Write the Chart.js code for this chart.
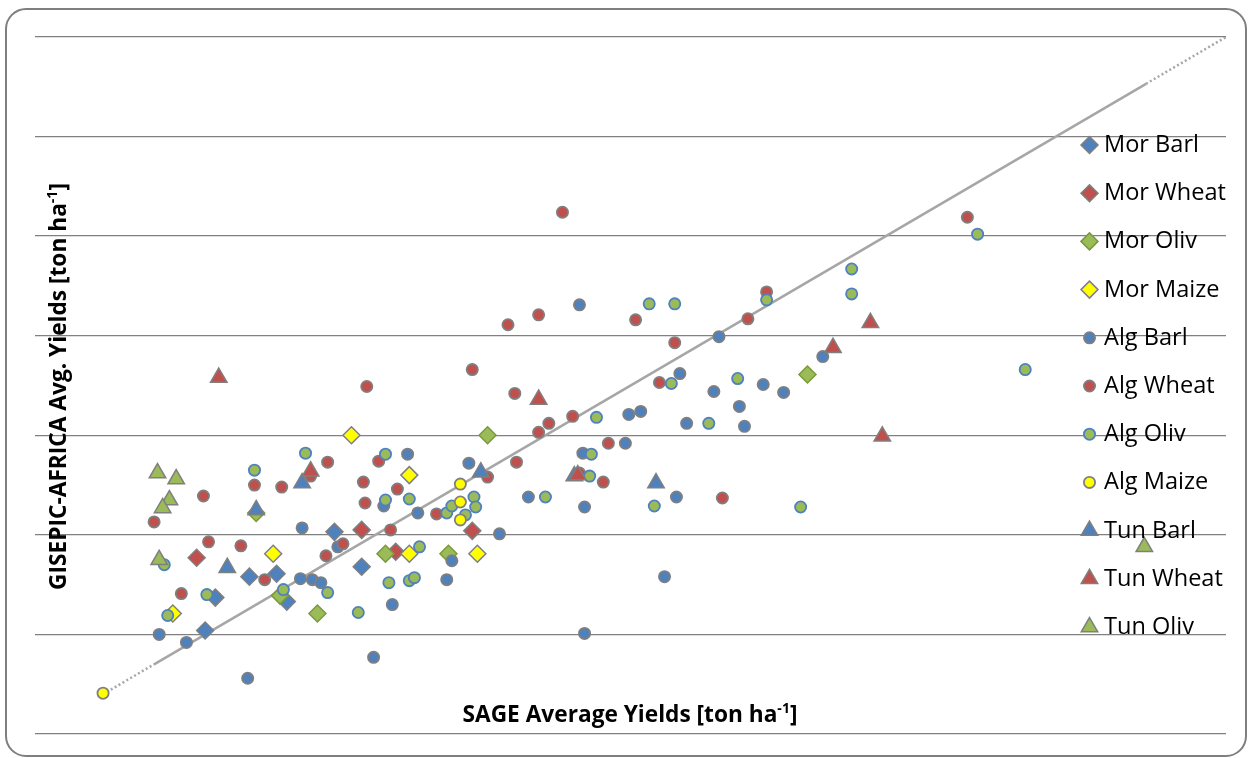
<!DOCTYPE html>
<html>
<head>
<meta charset="utf-8">
<script src="https://cdn.jsdelivr.net/npm/chart.js@4.4.1/dist/chart.umd.min.js"></script>
<style>
html,body{margin:0;padding:0;background:#fff;}
#wrap{width:1248px;height:758px;position:relative;}
canvas{display:block;}
</style>
</head>
<body>
<div id="wrap"><canvas id="c" width="1248" height="758"></canvas></div>
<script>
// ---------- DATA ----------
const seriesNames = ["Mor Barl","Mor Wheat","Mor Oliv","Mor Maize","Alg Barl","Alg Wheat","Alg Oliv","Alg Maize","Tun Barl","Tun Wheat","Tun Oliv"];

const morBarlX = [1.00,1.06,1.26,1.42,1.48,1.76,1.92];
const morBarlY = [1.04,1.37,1.58,1.61,1.33,2.03,1.68];

const morWheatX = [0.95,1.92,2.12,2.57];
const morWheatY = [1.77,2.05,1.83,2.04];

const morOlivX = [1.30,1.44,1.66,2.06,2.43,2.66,4.54];
const morOlivY = [2.22,1.39,1.21,1.81,1.81,3.00,3.61];

const morMaizeX = [0.81,1.40,1.86,2.20,2.20,2.60];
const morMaizeY = [1.21,1.81,3.00,2.60,1.81,1.81];

const algBarlX = [0.73,0.89,1.25,1.56,1.57,1.63,1.68,1.78,1.99,2.05,2.10,2.19,2.25,2.42,2.45,2.55,2.73,2.90,3.20,3.22,3.23,3.23,3.47,3.49,3.56,3.70,3.77,3.79,3.83,3.99,4.02,4.14,4.17,4.28,4.40,4.63];
const algBarlY = [1.00,0.92,0.56,1.56,2.07,1.55,1.52,1.88,0.77,2.29,1.30,2.81,2.22,1.55,1.74,2.72,2.01,2.38,4.31,2.82,2.28,1.01,2.92,3.21,3.24,1.58,2.38,3.62,3.12,3.44,3.99,3.29,3.09,3.51,3.43,3.79];

const algWheatX = [0.70,0.86,0.99,1.02,1.21,1.29,1.35,1.45,1.62,1.71,1.72,1.81,1.93,1.94,1.95,2.02,2.09,2.13,2.36,2.57,2.66,2.78,2.82,2.83,2.96,2.96,3.02,3.10,3.16,3.20,3.34,3.37,3.53,3.67,3.76,4.04,4.19,4.30,5.48];
const algWheatY = [2.13,1.41,2.39,1.93,1.89,2.50,1.55,2.48,2.59,1.79,2.73,1.91,2.53,2.32,3.49,2.74,2.05,2.46,2.21,3.66,2.58,4.11,3.42,2.73,4.21,3.03,3.12,5.24,3.19,2.62,2.53,2.92,4.16,3.53,3.93,2.37,4.17,4.44,5.19];

const algOlivX = [0.76,0.78,1.01,1.29,1.46,1.59,1.72,1.90,2.06,2.06,2.08,2.20,2.20,2.23,2.26,2.42,2.45,2.53,2.58,2.59,3.00,3.26,3.27,3.30,3.61,3.64,3.74,3.76,3.96,4.13,4.30,4.50,4.80,4.80,5.54,5.82];
const algOlivY = [1.70,1.19,1.40,2.65,1.45,2.82,1.42,1.22,2.81,2.35,1.52,2.36,1.54,1.57,1.88,2.22,2.29,2.20,2.38,2.28,2.38,2.59,2.81,3.18,4.32,2.29,3.52,4.32,3.12,3.57,4.36,2.28,4.67,4.42,5.02,3.66];

const algMaizeX = [0.40,2.50,2.50,2.50];
const algMaizeY = [0.41,2.51,2.33,2.15];

const tunBarlX = [1.13,1.30,1.57,2.62,3.17,3.65];
const tunBarlY = [1.67,2.25,2.52,2.63,2.59,2.52];

const tunWheatX = [1.08,1.62,2.96,3.19,4.69,4.91,4.98];
const tunWheatY = [3.58,2.64,3.36,2.60,3.88,4.13,2.99];

const tunOlivX = [0.72,0.83,0.79,0.75,0.73,6.52];
const tunOlivY = [2.62,2.56,2.35,2.27,1.75,1.88];

// 1:1 reference line (dotted ends, solid middle)
const lineX = [0.40,0.70,6.53,7.00];
const lineY = [0.40,0.70,6.53,7.00];

const axisMin = 0, axisMax = 7, axisStep = 1;
const xTitleParts = ["SAGE Average Yields [ton ha","-1","]"];
const yTitleParts = ["GISEPIC-AFRICA Avg. Yields [ton ha","-1","]"];

// ---------- STYLES ----------
const BLUE='#4f81bd', RED='#c0504d', GREEN='#9bbb59', YELLOW='#ffff00', GREY='#7f7f7f';
const seriesX = [morBarlX,morWheatX,morOlivX,morMaizeX,algBarlX,algWheatX,algOlivX,algMaizeX,tunBarlX,tunWheatX,tunOlivX];
const seriesY = [morBarlY,morWheatY,morOlivY,morMaizeY,algBarlY,algWheatY,algOlivY,algMaizeY,tunBarlY,tunWheatY,tunOlivY];
const styles = [
  {shape:'rectRot', fill:BLUE,   stroke:GREY, r:8.5, bw:1.5},
  {shape:'rectRot', fill:RED,    stroke:GREY, r:8.5, bw:1.5},
  {shape:'rectRot', fill:GREEN,  stroke:'#7a9a3a', r:8.5, bw:1.5},
  {shape:'rectRot', fill:YELLOW, stroke:GREY, r:8.5, bw:1.5},
  {shape:'circle',  fill:BLUE,   stroke:GREY, r:5.6, bw:1.8},
  {shape:'circle',  fill:RED,    stroke:GREY, r:5.6, bw:1.8},
  {shape:'circle',  fill:GREEN,  stroke:BLUE, r:5.6, bw:1.8},
  {shape:'circle',  fill:YELLOW, stroke:GREY, r:5.6, bw:1.8},
  {shape:'triangle',fill:BLUE,   stroke:GREY, r:9.5, bw:1.5},
  {shape:'triangle',fill:RED,    stroke:GREY, r:9.5, bw:1.5},
  {shape:'triangle',fill:GREEN,  stroke:GREY, r:9.5, bw:1.5}
];

function pts(xs, ys){ return xs.map((x,i)=>({x:x, y:ys[i]})); }

const datasets = [];
const LINE_COL = '#a6a6a6';
datasets.push({type:'line', data:pts(lineX.slice(0,2), lineY.slice(0,2)), borderColor:LINE_COL, borderWidth:2.5, borderDash:[2,2.5], pointRadius:0, showLine:true, fill:false, order:100});
datasets.push({type:'line', data:pts(lineX.slice(1,3), lineY.slice(1,3)), borderColor:LINE_COL, borderWidth:2.5, pointRadius:0, showLine:true, fill:false, order:100});
datasets.push({type:'line', data:pts(lineX.slice(2,4), lineY.slice(2,4)), borderColor:LINE_COL, borderWidth:2.5, borderDash:[2,2.5], pointRadius:0, showLine:true, fill:false, order:100});
seriesNames.forEach((n,i)=>{
  const s = styles[i];
  datasets.push({
    label:n, type:'scatter', data:pts(seriesX[i], seriesY[i]),
    pointStyle:s.shape, pointRadius:s.r, pointHoverRadius:s.r,
    backgroundColor:s.fill, borderColor:s.stroke, borderWidth:s.bw,
    order: 50 - i
  });
});

// ---------- helpers ----------
function drawShape(ctx, s, x, y){
  ctx.save();
  ctx.fillStyle = s.fill; ctx.strokeStyle = s.stroke; ctx.lineWidth = s.bw;
  ctx.beginPath();
  if (s.shape==='circle'){ ctx.arc(x,y,s.r,0,Math.PI*2); }
  else if (s.shape==='rectRot'){ ctx.moveTo(x-s.r,y); ctx.lineTo(x,y-s.r); ctx.lineTo(x+s.r,y); ctx.lineTo(x,y+s.r); ctx.closePath(); }
  else { const r=s.r; ctx.moveTo(x,y-r); ctx.lineTo(x+r*Math.sin(2*Math.PI/3), y-r*Math.cos(2*Math.PI/3)); ctx.lineTo(x+r*Math.sin(4*Math.PI/3), y-r*Math.cos(4*Math.PI/3)); ctx.closePath(); }
  ctx.fill(); ctx.stroke();
  ctx.restore();
}
const FAM = '"Open Sans", "Noto Sans", sans-serif';
function richWidth(ctx, parts, size, weight){
  let w=0;
  parts.forEach((p,i)=>{ ctx.font = `${weight} ${i===1?size*0.62:size}px ${FAM}`; w += ctx.measureText(p).width; });
  return w;
}
function drawRich(ctx, parts, cx, baseline, size, weight){
  const total = richWidth(ctx, parts, size, weight);
  let x = cx - total/2;
  ctx.textAlign='left'; ctx.textBaseline='alphabetic'; ctx.fillStyle='#000';
  parts.forEach((p,i)=>{
    const sz = i===1?size*0.62:size;
    ctx.font = `${weight} ${sz}px ${FAM}`;
    ctx.fillText(p, x, i===1 ? baseline - size*0.38 : baseline);
    x += ctx.measureText(p).width;
  });
}

const decor = {
  id:'decor',
  beforeDraw(chart){
    const ctx = chart.ctx;
    ctx.save();
    ctx.fillStyle='#fff'; ctx.fillRect(0,0,chart.width,chart.height);
    ctx.beginPath();
    ctx.roundRect(6,9,1240,747,20);
    ctx.strokeStyle='#7f7f7f'; ctx.lineWidth=2; ctx.stroke();
    ctx.restore();
  },
  afterDraw(chart){
    const ctx = chart.ctx;
    ctx.save();
    // X title
    let sz = 20*335/richWidth(ctx, xTitleParts, 20, 'bold');
    drawRich(ctx, xTitleParts, 630, 722, sz, 'bold');
    // Y title
    sz = 20*407/richWidth(ctx, yTitleParts, 20, 'bold');
    ctx.save();
    ctx.translate(66, 386.5);
    ctx.rotate(-Math.PI/2);
    drawRich(ctx, yTitleParts, 0, 0, sz, 'bold');
    ctx.restore();
    // Legend
    ctx.font = `20px ${FAM}`;
    const lsz = 20*122/ctx.measureText('Mor Wheat').width;
    seriesNames.forEach((n,i)=>{
      const y = 145 + i*48.2;
      drawShape(ctx, styles[i], 1089.5, y);
      ctx.font = `${lsz}px ${FAM}`;
      ctx.fillStyle='#000'; ctx.textAlign='left'; ctx.textBaseline='alphabetic';
      ctx.fillText(n, 1104, y + 7);
    });
    ctx.restore();
  }
};

new Chart(document.getElementById('c'), {
  type:'scatter',
  data:{datasets:datasets},
  options:{
    responsive:false, animation:false, devicePixelRatio:1,
    layout:{padding:{left:35, right:22, top:37, bottom:24}},
    plugins:{legend:{display:false}, tooltip:{enabled:false}},
    scales:{
      x:{type:'linear', min:axisMin, max:axisMax, display:false},
      y:{type:'linear', min:axisMin, max:axisMax,
         ticks:{display:false, stepSize:axisStep},
         grid:{drawTicks:false, color:'#808080', lineWidth:1.3},
         border:{display:false}}
    }
  },
  plugins:[decor]
});
</script>
</body>
</html>
